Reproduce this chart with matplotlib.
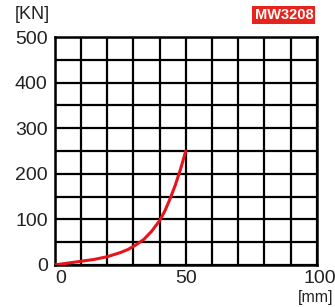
import numpy as np
import matplotlib.pyplot as plt
import matplotlib.transforms as mtransforms

plt.rcParams['font.family'] = ['Liberation Sans', 'DejaVu Sans']

# Load-displacement curve
stroke = [0, 5, 10, 15, 20, 25, 28, 31, 34, 37, 40, 42, 44, 46, 48, 50]
load = [0, 4, 8, 12, 18, 27, 34, 44, 56, 74, 97, 118, 145, 175, 210, 250]

x_ticks = [0, 50, 100]
y_ticks = [0, 100, 200, 300, 400, 500]

fig = plt.figure(figsize=(3.35, 3.07), dpi=100)
ax = fig.add_axes([0.163, 0.137, 0.783, 0.742])

ax.plot(stroke, load, color='#e8141c', lw=2.2, zorder=3, solid_capstyle='round')

ax.set_xlim(0, 100)
ax.set_ylim(0, 500)
ax.set_xticks(np.arange(0, 101, 10), minor=True)
ax.set_yticks(np.arange(0, 501, 50), minor=True)
ax.set_xticks(x_ticks)
ax.set_yticks(y_ticks)
ax.grid(True, which='both', color='black', lw=1.6)
ax.tick_params(which='both', length=0, labelsize=14, colors='#222222')
ax.tick_params(axis='y', pad=5)
ax.tick_params(axis='x', pad=4)
for s in ax.spines.values():
    s.set_linewidth(1.8)

# nudge the first and last x labels to the right, as in the original
fig.canvas.draw()
xlabels = ax.get_xticklabels()
for lab, dx in zip(xlabels, [6, 0, 3]):
    lab.set_transform(lab.get_transform() +
                      mtransforms.ScaledTranslation(dx / 100, 0, fig.dpi_scale_trans))

fig.text(0.045, 0.952, '[KN]', fontsize=13, va='center', ha='left', color='#222222')
fig.text(0.935, 0.952, 'MW3208', fontsize=10.5, fontweight='bold', color='white',
         va='center', ha='right',
         bbox=dict(boxstyle='square,pad=0.15', fc='#e8241c', ec='none'))
fig.text(0.995, 0.03, '[mm]', fontsize=11.5, va='center', ha='right', color='#222222')

fig.savefig('out.png', dpi=100)
